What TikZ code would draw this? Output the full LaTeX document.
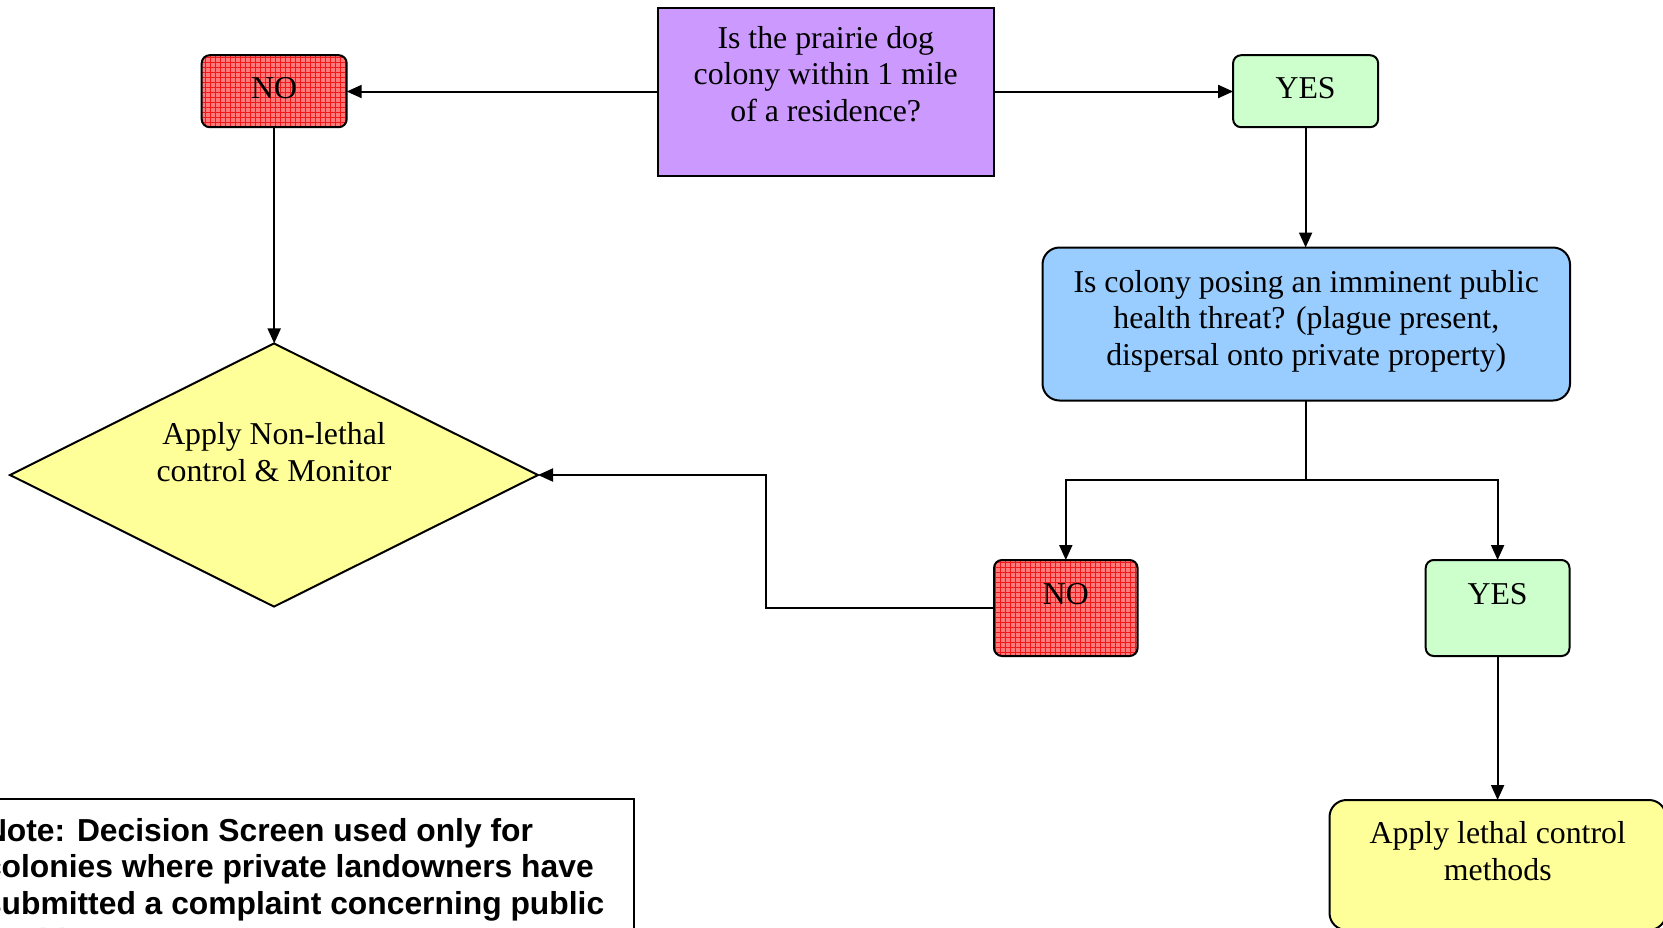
\documentclass[tikz,border=0pt]{standalone}
\usepackage{fontspec}
\setmainfont{Liberation Serif}
\newfontfamily\notefont{Liberation Sans}
\usetikzlibrary{shapes.geometric,arrows.meta,patterns.meta}
\definecolor{qpurple}{HTML}{CC99FF}
\definecolor{qblue}{HTML}{99CCFF}
\definecolor{ygreen}{HTML}{CCFFCC}
\definecolor{lyellow}{HTML}{FFFF99}
\definecolor{nored}{HTML}{FF7A7A}
\definecolor{gridred}{HTML}{F01818}
\tikzdeclarepattern{
  name=redgrid,
  bounding box={(-0.2pt,-0.2pt) and (2.7pt,2.7pt)},
  tile size={(2.5pt,2.5pt)},
  code={\draw[line width=0.3pt] (0pt,0pt) -- (2.5pt,0pt) (0pt,0pt) -- (0pt,2.5pt);}
}
\tikzset{
  every node/.style={inner sep=0pt, outer sep=0pt},
  shapebox/.style={draw=black, line width=1pt},
  txt/.style={font=\fontsize{15.9}{18.3}\selectfont, align=center, text=black},
  notetxt/.style={font=\fontsize{15.9}{18.4}\notefont\bfseries, align=left, text=black},
  arr/.style={line width=1pt, -{Triangle[length=7.5pt,width=6.5pt]}},
  link/.style={line width=1pt},
  nobox/.style={shapebox, rounded corners=4pt,
    preaction={fill=nored}, preaction={pattern=redgrid, pattern color=gridred}},
  yesbox/.style={shapebox, rounded corners=4pt, fill=ygreen},
}
\begin{document}
\begin{tikzpicture}[x=0.5pt,y=-0.5pt]
\useasboundingbox (0,0) rectangle (1663,927);
\clip (0,0) rectangle (1663,927);
\fill[white] (0,0) rectangle (1663,927);

% shapes
\node[shapebox, fill=qpurple, minimum width=168.25pt, minimum height=84pt] (q1) at (825.75,91.5) {};
\node[nobox, minimum width=72.5pt, minimum height=36pt] (no1) at (274.2,91.2) {};
\node[yesbox, minimum width=72.5pt, minimum height=36pt] (yes1) at (1305.6,91.2) {};
\node[shapebox, fill=qblue, rounded corners=8.5pt, minimum width=263.75pt, minimum height=76.5pt] (q2) at (1306.25,324) {};
\node[shapebox, diamond, fill=lyellow, minimum width=264pt, minimum height=131.6pt] (dia) at (274,475) {};
\node[nobox, minimum width=71.8pt, minimum height=48pt] (no2) at (1065.8,608) {};
\node[yesbox, minimum width=71.9pt, minimum height=48pt] (yes2) at (1497.6,608) {};
\node[shapebox, fill=lyellow, rounded corners=8.5pt, minimum width=168.25pt, minimum height=65pt] (yl) at (1497.75,865) {};
\node[shapebox, fill=white, minimum width=322pt, minimum height=70.5pt] (note) at (312,869.5) {};

% texts
\node[txt, anchor=north] (q1t) at (825.75,26.1) {Is the prairie dog\\colony within 1 mile\\of a residence?};
\node[txt, anchor=base] (no1t) at (274.2,98.5) {NO};
\node[txt, anchor=base] (yes1t) at (1305.6,98.5) {YES};
\node[txt, anchor=north] (q2t) at (1306.25,270.1) {Is colony posing an imminent public\\health threat? (plague present,\\dispersal onto private property)};
\node[txt, anchor=north] (diat) at (274,422.4) {Apply Non-lethal\\control \& Monitor};
\node[txt, anchor=base] (no2t) at (1065.8,604) {NO};
\node[txt, anchor=base] (yes2t) at (1497.6,604) {YES};
\node[txt, anchor=north] (ylt) at (1497.75,821.4) {Apply lethal control\\methods};
\node[notetxt, anchor=north west] (notet) at (-16,818) {Note: Decision Screen used only for\\colonies where private landowners have\\submitted a complaint concerning public\\health.};

% connectors
\coordinate (br) at (1306.25,479.5);
\coordinate (bend) at (765.7,0);
\draw[arr] (q1.west) -- (q1.west -| no1.east);
\draw[arr] (q1.east) -- (q1.east -| yes1.west);
\draw[arr] (yes1.south) -- (yes1.south |- q2.north);
\draw[arr] (no1.south) -- (no1.south |- dia.north);
\draw[link] (q2.south) -- (br);
\draw[arr] (br) -| (no2.north);
\draw[arr] (br) -| (yes2.north);
\draw[arr] (yes2.south) -- (yes2.south |- yl.north);
\draw[arr] (no2.west) -| (bend |- dia.east) -- (dia.east);
\end{tikzpicture}
\end{document}
